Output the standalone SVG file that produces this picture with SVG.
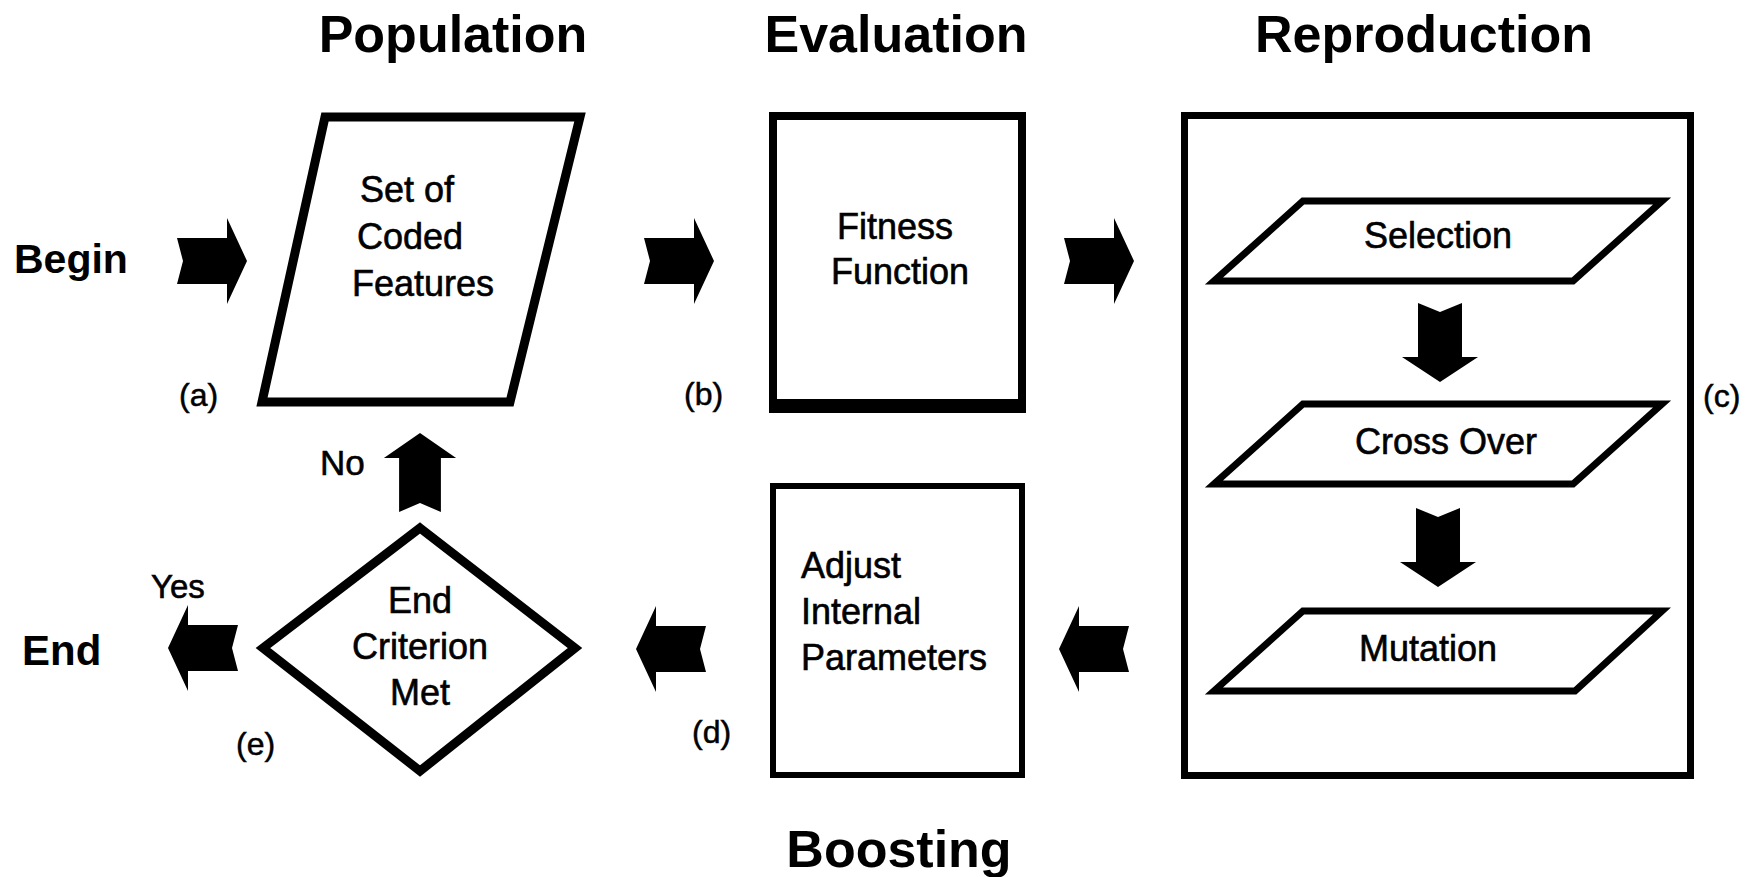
<svg xmlns="http://www.w3.org/2000/svg" xmlns:xlink="http://www.w3.org/1999/xlink" width="1757" height="877" viewBox="0 0 1757 877">
<style>
  text { font-family: "Liberation Sans", Arial, sans-serif; fill: #000; }
  .title { font-size: 52px; font-weight: bold; text-anchor: middle; }
  .big { font-size: 41px; font-weight: bold; }
  .node { font-size: 36px; stroke: #000; stroke-width: 0.6px; }
  .mid { text-anchor: middle; }
  .lbl { font-size: 32px; stroke: #000; stroke-width: 0.5px; }
  .shape { fill: #fff; stroke: #000; stroke-linejoin: miter; }
  .arrow { fill: #000; }
</style>
<defs>
  <path id="arrowR" d="M-70,-23 L-20,-23 L-20,-43 L0,0 L-20,43 L-20,23 L-70,23 L-64,0 Z"/>
  <path id="arrowD" d="M-22,-79 L0,-70 L22,-79 L22,-25 L38,-25 L0,0 L-38,-25 L-22,-25 Z"/>
</defs>
<rect width="1757" height="877" fill="#fff"/>

<g id="titles">
  <text class="title" x="453" y="52">Population</text>
  <text class="title" x="896" y="52">Evaluation</text>
  <text class="title" x="1424" y="52">Reproduction</text>
  <text class="title" x="899" y="867">Boosting</text>
</g>

<g id="begin">
  <text class="big" x="14" y="273">Begin</text>
</g>

<g id="end">
  <text class="big" x="22" y="665" style="font-size:42px">End</text>
</g>

<g id="population">
  <polygon class="shape" stroke-width="9" points="325,117 580,117 510,402 262,402"/>
  <text class="node" x="360" y="202">Set of</text>
  <text class="node" x="357" y="249">Coded</text>
  <text class="node" x="352" y="296">Features</text>
  <text class="lbl" x="179" y="406">(a)</text>
</g>

<g id="fitness">
  <rect class="shape" stroke-width="8" x="773" y="116" width="249" height="290"/>
  <rect x="769" y="399" width="257" height="14" fill="#000"/>
  <text class="node mid" x="895" y="239">Fitness</text>
  <text class="node mid" x="900" y="284">Function</text>
  <text class="lbl" x="684" y="405">(b)</text>
</g>

<g id="reproduction">
  <rect class="shape" stroke-width="7" x="1184.5" y="115.5" width="506" height="660"/>
  <text class="lbl" x="1703" y="407">(c)</text>
</g>

<g id="selection">
  <polygon class="shape" stroke-width="7" points="1303,201 1662,201 1573,281 1214,281"/>
  <text class="node mid" x="1438" y="248">Selection</text>
</g>

<g id="crossover">
  <polygon class="shape" stroke-width="7" points="1303,404 1662,404 1573,484 1214,484"/>
  <text class="node mid" x="1446" y="454">Cross Over</text>
</g>

<g id="mutation">
  <polygon class="shape" stroke-width="7" points="1303,611 1662,611 1575,691 1214,691"/>
  <text class="node mid" x="1428" y="661">Mutation</text>
</g>

<g id="adjust">
  <rect class="shape" stroke-width="6" x="773" y="486" width="249" height="289"/>
  <text class="node" x="801" y="578">Adjust</text>
  <text class="node" x="801" y="624">Internal</text>
  <text class="node" x="801" y="670">Parameters</text>
  <text class="lbl" x="692" y="743">(d)</text>
</g>

<g id="criterion">
  <polygon class="shape" stroke-width="9" points="420,528 575,648 420,771 263,648"/>
  <text class="node mid" x="420" y="613">End</text>
  <text class="node mid" x="420" y="659">Criterion</text>
  <text class="node mid" x="420" y="705">Met</text>
  <text class="lbl" x="236" y="755">(e)</text>
</g>

<g id="connectors" class="arrow">
  <use xlink:href="#arrowR" transform="translate(247,261)"/>
  <use xlink:href="#arrowR" transform="translate(714,261)"/>
  <use xlink:href="#arrowR" transform="translate(1134,261)"/>
  <use xlink:href="#arrowD" transform="translate(1440,382)"/>
  <use xlink:href="#arrowD" transform="translate(1438,587)"/>
  <use xlink:href="#arrowR" transform="translate(1059,649) scale(-1,1)"/>
  <use xlink:href="#arrowR" transform="translate(636,649) scale(-1,1)"/>
  <use xlink:href="#arrowR" transform="translate(168,648) scale(-1,1)"/>
  <use xlink:href="#arrowD" transform="translate(420,433) scale(0.95,-1)"/>
  <text class="node" x="320" y="475" style="font-size:35px">No</text>
  <text class="node" x="151" y="598" style="font-size:33px">Yes</text>
</g>
</svg>
